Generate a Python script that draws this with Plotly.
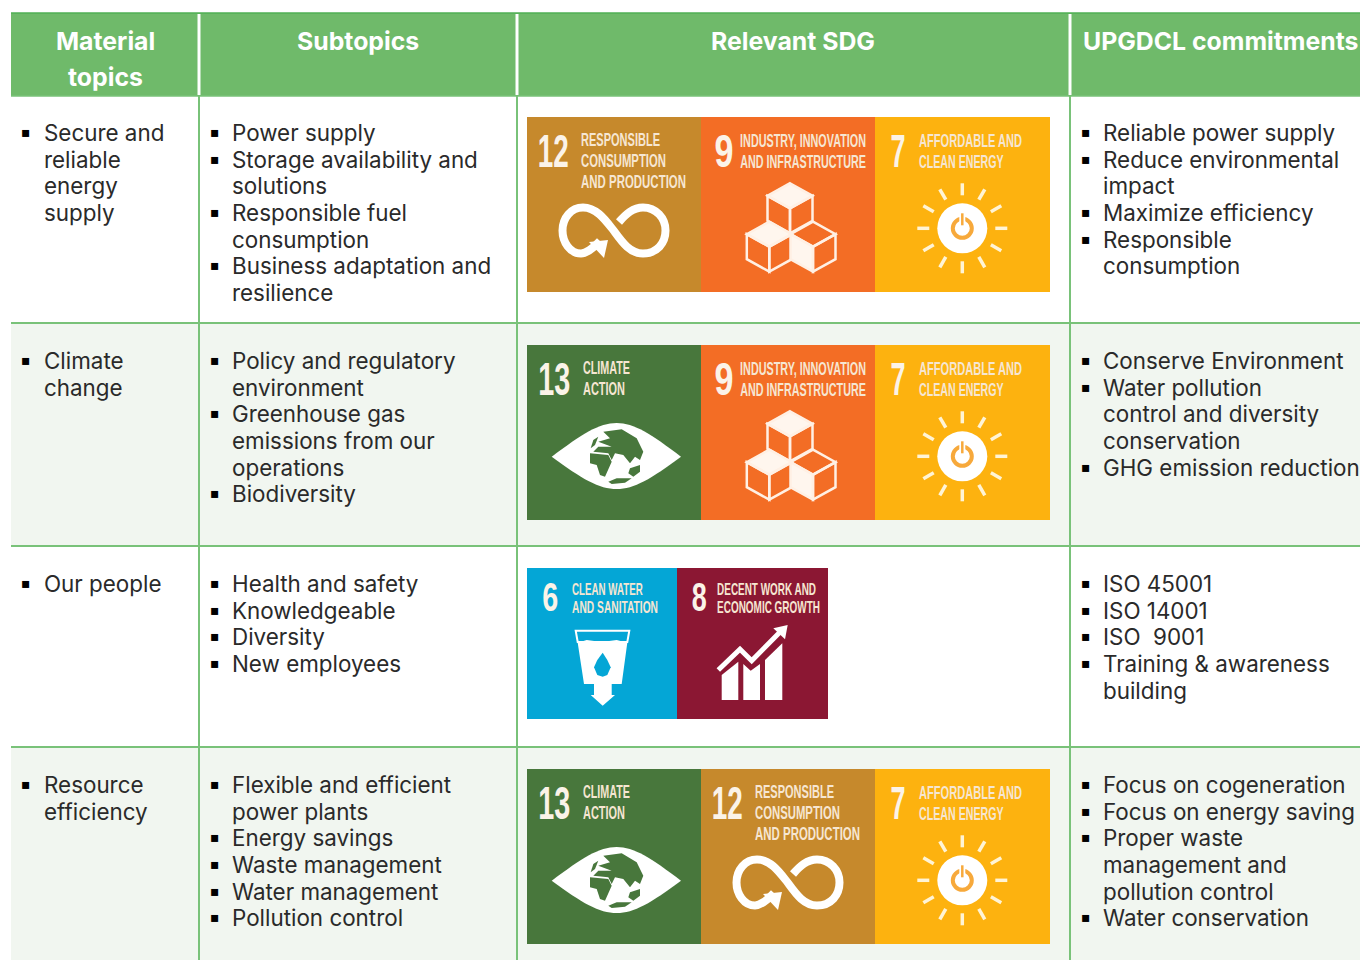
import json
import math
import plotly.graph_objects as go

# ---------- table content ----------
HEADERS = [(["Material", "topics"], 105), (["Subtopics"], 358), (["Relevant SDG"], 793), (["UPGDCL commitments"], 1220)]
MATERIAL = [
    [["Secure and", "reliable", "energy", "supply"]],
    [["Climate", "change"]],
    [["Our people"]],
    [["Resource", "efficiency"]],
]
SUBTOPICS = [
    [["Power supply"], ["Storage availability and", "solutions"], ["Responsible fuel", "consumption"], ["Business adaptation and", "resilience"]],
    [["Policy and regulatory", "environment"], ["Greenhouse gas", "emissions from our", "operations"], ["Biodiversity"]],
    [["Health and safety"], ["Knowledgeable"], ["Diversity"], ["New employees"]],
    [["Flexible and efficient", "power plants"], ["Energy savings"], ["Waste management"], ["Water management"], ["Pollution control"]],
]
COMMITMENTS = [
    [["Reliable power supply"], ["Reduce environmental", "impact"], ["Maximize efficiency"], ["Responsible", "consumption"]],
    [["Conserve Environment"], ["Water pollution", "control and diversity", "conservation"], ["GHG emission reduction"]],
    [["ISO 45001"], ["ISO 14001"], ["ISO  9001"], ["Training & awareness", "building"]],
    [["Focus on cogeneration"], ["Focus on energy saving"], ["Proper waste", "management and", "pollution control"], ["Water conservation"]],
]
ROW_SDGS = [[12, 9, 7], [13, 9, 7], [6, 8], [13, 12, 7]]
SDG_COLOR = {12: "#C6892C", 9: "#F36D25", 7: "#FDB20F", 13: "#48773C", 6: "#04A6D6", 8: "#8B1733"}
SDG_TITLE = {
    12: ["RESPONSIBLE", "CONSUMPTION", "AND PRODUCTION"],
    9: ["INDUSTRY, INNOVATION", "AND INFRASTRUCTURE"],
    7: ["AFFORDABLE AND", "CLEAN ENERGY"],
    13: ["CLIMATE", "ACTION"],
    6: ["CLEAN WATER", "AND SANITATION"],
    8: ["DECENT WORK AND", "ECONOMIC GROWTH"],
}
# printed widths of the condensed tile lettering
TEXT_WIDTH = {
    "RESPONSIBLE": 79, "CONSUMPTION": 85, "AND PRODUCTION": 105,
    "INDUSTRY, INNOVATION": 126, "AND INFRASTRUCTURE": 126,
    "AFFORDABLE AND": 103, "CLEAN ENERGY": 85,
    "CLIMATE": 47, "ACTION": 42,
    "CLEAN WATER": 71, "AND SANITATION": 86,
    "DECENT WORK AND": 99, "ECONOMIC GROWTH": 103,
    "12": 31, "13": 32, "9": 19, "7": 15, "6": 16, "8": 15,
}

# ---------- layout geometry ----------
COL_X = [199, 517, 1070]
ROW_LINES = [96, 323, 546, 747, 960]
TEXT_Y0 = [132.4, 360.4, 583.4, 784.4]
LINE_H = 26.7
TILE_Y = [117, 345, 568, 769]
TILE_X0 = 527
TILE_W = {12: 174, 9: 174, 7: 175, 13: 174, 6: 150, 8: 151}
TILE_H = {0: 175, 1: 175, 2: 151, 3: 175}
# x of the number, x of the title, title font size, title y's, number size (relative to tile)
TILE_TEXT = {
    12: (26, 54, 18.5, [22.5, 43, 64], 47),
    9: (23, 39, 18.5, [23.5, 44.5], 47),
    7: (23, 44, 18.5, [23.5, 44.5], 47),
    13: (27, 56, 18.5, [22.5, 43], 47),
    6: (23, 45, 16, [21, 39], 40),
    8: (22, 40, 16, [21, 39], 40),
}
GREEN = "#6FBA6A"
LINE = "#79C279"
BAND = "#F1F6F0"
FONT = "Inter"
TXT = "#2A2A2A"

shapes, ann = [], []


def rect(x0, y0, x1, y1, fill):
    shapes.append(dict(type="rect", x0=x0, y0=y0, x1=x1, y1=y1, fillcolor=fill, line_width=0, layer="below"))


def vline(x, y0, y1, color, w):
    shapes.append(dict(type="line", x0=x, x1=x, y0=y0, y1=y1, line=dict(color=color, width=w)))


def hline(y, color, w, x0=11, x1=1360):
    shapes.append(dict(type="line", x0=x0, x1=x1, y0=y, y1=y, line=dict(color=color, width=w)))


def text(x, y, s, size, color=TXT, family=FONT, anchor="left"):
    ann.append(dict(x=x, y=y, text=s, showarrow=False, xanchor=anchor, yanchor="middle",
                    xref="x", yref="y", font=dict(family=family, size=size, color=color),
                    borderpad=0, borderwidth=0))


def path(d, fill=None, stroke=None, w=0):
    sh = dict(type="path", path=d, line=dict(width=w, color=stroke or "rgba(0,0,0,0)"))
    if fill:
        sh["fillcolor"] = fill
    shapes.append(sh)


def poly(ox, oy, pts, fill=None, stroke=None, w=0, close=True):
    d = "M " + " L ".join(f"{ox+x:.1f},{oy+y:.1f}" for x, y in pts) + (" Z" if close else "")
    path(d, fill, stroke, w)


def circle(cx, cy, r, fill=None, stroke=None, w=0):
    shapes.append(dict(type="circle", x0=cx-r, x1=cx+r, y0=cy-r, y1=cy+r,
                       fillcolor=fill or "rgba(0,0,0,0)", line=dict(width=w, color=stroke or "rgba(0,0,0,0)")))


def curve(ox, oy, start, segs):
    d = f"M {ox+start[0]},{oy+start[1]}"
    for s in segs:
        d += " C " + " ".join(f"{ox+s[i]},{oy+s[i+1]}" for i in (0, 2, 4))
    return d


# ---------- icons ----------
def icon_infinity(ox, oy):
    d = curve(ox, oy, (73, 124), [
        (66, 132, 58, 136.5, 54, 136.5), (43, 136.5, 35.5, 125, 35.5, 113.5),
        (35.5, 101, 44, 90.5, 56, 90.5), (70, 90.5, 79, 104, 87, 114),
        (95, 125, 103, 136.5, 116, 136.5), (130, 136.5, 138.5, 126, 138.5, 113.5),
        (138.5, 101, 129, 90.5, 116, 90.5), (106, 90.5, 99, 97, 92, 105)])
    path(d, None, "white", 8)
    poly(ox, oy, [(62, 125), (81, 123), (77, 141)], "white")


def icon_cubes(ox, oy):
    hw, r = 22.5, 25

    def cube(cx, cy, fill_face):
        top = [(cx, cy - r), (cx + hw, cy - r/2), (cx, cy), (cx - hw, cy - r/2)]
        left = [(cx - hw, cy - r/2), (cx, cy), (cx, cy + r), (cx - hw, cy + r/2)]
        right = [(cx, cy), (cx + hw, cy - r/2), (cx + hw, cy + r/2), (cx, cy + r)]
        poly(ox, oy, top, "#FFF6EE" if fill_face == "top" else None, "#FFF0E4", 2.5)
        poly(ox, oy, left, "#FFF6EE" if fill_face == "left" else None, "#FFF0E4", 2.5)
        poly(ox, oy, right, None, "#FFF0E4", 2.5)
    cube(89, 91.3, "top")
    cube(68.3, 129.7, "top")
    cube(112, 129.7, "left")


def icon_sun(ox, oy):
    cx, cy = ox + 87.3, oy + 111.3
    for k in range(12):
        a = k * math.pi / 6
        shapes.append(dict(type="line", x0=cx + 33*math.cos(a), y0=cy + 33*math.sin(a),
                           x1=cx + 45*math.cos(a), y1=cy + 45*math.sin(a),
                           line=dict(color="#FFF4D6", width=3.5)))
    circle(cx, cy, 25, "white")
    circle(cx, cy, 9.5, None, "#F7A93B", 4)
    shapes.append(dict(type="line", x0=cx, x1=cx, y0=cy-15, y1=cy-3, line=dict(color="white", width=6)))
    shapes.append(dict(type="line", x0=cx, x1=cx, y0=cy-15, y1=cy-3, line=dict(color="#F7A93B", width=2.5)))


def icon_eye(ox, oy):
    d = curve(ox, oy, (24.7, 111.7), [
        (55, 89, 72, 78, 89.7, 78), (107, 78, 124, 89, 154, 111.7),
        (124, 134, 107, 144, 89.7, 144), (72, 144, 55, 134, 24.7, 111.7)])
    path(d + " Z", "white")
    lands = [
        [(190, 65), (245, 58), (290, 85), (310, 125), (300, 150), (285, 140), (270, 160), (250, 135),
         (225, 130), (215, 150), (205, 130), (160, 125), (175, 110), (215, 110), (175, 95), (210, 85)],
        [(150, 130), (205, 135), (215, 155), (195, 200), (180, 195), (170, 165), (150, 160)],
        [(270, 175), (300, 165), (300, 185), (280, 200), (265, 190)],
        [(205, 215), (230, 205), (275, 205), (255, 218), (215, 222)],
        [(160, 90), (175, 80), (165, 105), (152, 115)],
    ]
    for b in lands:
        poly(ox, oy, [(x/3 + 13, y/3 + 65) for x, y in b], SDG_COLOR[13])


def icon_water(ox, oy):
    Z = lambda pts: [(x/3 - 7, y/3 - 8) for x, y in pts]
    poly(ox, oy, Z([(167, 212), (328, 212), (322, 246), (173, 246)]), None, "white", 2)
    poly(ox, oy, Z([(173, 248), (200, 240), (245, 246), (290, 240), (322, 248), (305, 372), (275, 372),
                    (275, 405), (285, 405), (248, 437), (212, 405), (222, 405), (222, 372), (192, 372)]), "white")
    d = [(248, 278), (262, 300), (272, 322), (262, 345), (248, 350), (232, 345), (222, 322), (232, 300)]
    poly(ox, oy, Z(d), SDG_COLOR[6])


def icon_growth(ox, oy):
    Z = lambda pts: [(x/3 - 157, y/3 - 8) for x, y in pts]
    poly(ox, oy, Z([(605, 345), (655, 305), (655, 420), (605, 420)]), "white")
    poly(ox, oy, Z([(670, 312), (692, 332), (720, 312), (720, 420), (670, 420)]), "white")
    poly(ox, oy, Z([(735, 300), (787, 250), (787, 420), (735, 420)]), "white")
    poly(ox, oy, Z([(595, 330), (660, 268), (695, 302), (778, 218)]), None, "white", 5, close=False)
    poly(ox, oy, Z([(760, 205), (803, 195), (795, 238)]), "white")


ICONS = {12: icon_infinity, 9: icon_cubes, 7: icon_sun, 13: icon_eye, 6: icon_water, 8: icon_growth}

# ---------- table frame ----------
rect(11, 13, 1360, 96, GREEN)
hline(13, "#4FAF55", 1.5)
for i in (1, 3):
    rect(11, ROW_LINES[i] + 1, 1360, ROW_LINES[i + 1], BAND)
for y in ROW_LINES[1:4]:
    hline(y, LINE, 2)
hline(96, LINE, 1.5)
for x in COL_X:
    vline(x, 14, 95, "white", 3)
    vline(x, 96, 960, LINE, 2)

for lines, cx in HEADERS:
    for i, s in enumerate(lines):
        text(cx, 40.5 + i * 36, f"<b>{s}</b>", 24.8, "white", anchor="center")


def cell(items, row, bullet_x, text_x):
    k = 0
    for item in items:
        text(bullet_x, TEXT_Y0[row] + k * LINE_H - 0.5, "▪", 14, "#000000", family="DejaVu Sans", anchor="center")
        for s in item:
            text(text_x, TEXT_Y0[row] + k * LINE_H, s, 22.4)
            k += 1


for r in range(4):
    cell(MATERIAL[r], r, 26, 44)
    cell(SUBTOPICS[r], r, 215, 232)
    cell(COMMITMENTS[r], r, 1086, 1103)

# ---------- SDG tiles ----------
for r, ids in enumerate(ROW_SDGS):
    x = TILE_X0
    y = TILE_Y[r]
    for sid in ids:
        w = TILE_W[sid]
        rect(x, y, x + w, y + TILE_H[r], SDG_COLOR[sid])
        nx, tx, ts, tys, ns = TILE_TEXT[sid]
        text(x + nx, y + 33 if r != 2 else y + 29, f"<b>{sid}</b>", ns, "#FBF3E8",
             family="Liberation Sans", anchor="center")
        for ty, s in zip(tys, SDG_TITLE[sid]):
            text(x + tx, y + ty, f"<b>{s}</b>", ts, "#F6E6D2", family="Liberation Sans")
        ICONS[sid](x, y)
        x += w

fig = go.Figure()
fig.update_layout(
    width=1360, height=960, margin=dict(l=0, r=0, t=0, b=0),
    paper_bgcolor="white", plot_bgcolor="white", showlegend=False,
    xaxis=dict(range=[0, 1360], visible=False, fixedrange=True),
    yaxis=dict(range=[960, 0], visible=False, fixedrange=True),
    shapes=shapes, annotations=ann,
)
# the SDG lettering is condensed: squeeze just those real text elements horizontally
squeeze = """
document.body.style.margin='0';document.body.style.overflow='hidden';
var W=%s;
function sq(){document.querySelectorAll('.annotation-text').forEach(function(t){
  var w=W[t.textContent.trim()]; if(!w) return;
  t.style.transform=''; var b=t.getBBox();
  t.style.transformBox='fill-box';
  t.style.transformOrigin=/^[0-9]+$/.test(t.textContent.trim())?'center':'left center';
  t.style.transform='scaleX('+(w/b.width)+')';
});}
sq();
""" % json.dumps(TEXT_WIDTH)
fig.write_html("out.html", config=dict(displayModeBar=False), post_script=squeeze)
